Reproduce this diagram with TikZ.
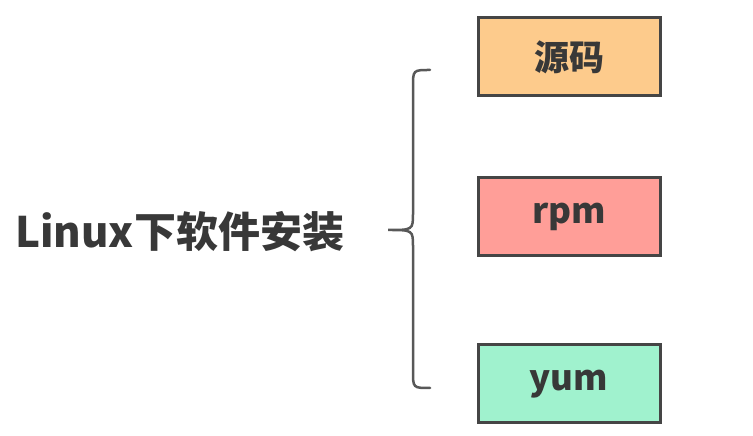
\documentclass[tikz,border=0pt]{standalone}
\usepackage{fontspec}
\setmainfont{Noto Sans CJK SC}
\usetikzlibrary{positioning}
\definecolor{srcfill}{HTML}{FDCB8C}
\definecolor{rpmfill}{HTML}{FF9E98}
\definecolor{yumfill}{HTML}{A0F2CE}
\definecolor{edge}{HTML}{454545}
\definecolor{ink}{HTML}{383838}

\begin{document}
\begin{tikzpicture}[x=1pt, y=1pt,
  box/.style = {draw=edge, line width=3pt, minimum width=182pt, minimum height=78pt,
                text=ink, font=\fontsize{35}{38}\bfseries},
  bracket/.style = {draw=edge!90, line width=2.5pt, line cap=round}]

\useasboundingbox (0,0) rectangle (753,436);

\node[anchor=west, text=ink, font=\fontsize{42}{45}\bfseries, inner sep=0pt] (title) at (15,204) {Linux下软件安装};

\node[box, fill=rpmfill] (rpm) at (569,219) {rpm};
\node[box, fill=srcfill, above=79pt of rpm] (src) {源码};
\node[box, fill=yumfill, below=86pt of rpm] (yum) {yum};

\coordinate (top) at (430,366);
\coordinate (tip) at (388,206);
\coordinate (bot) at (430,48);

\draw[bracket] (top) .. controls (413,366) .. (413,349) -- (413,223)
  .. controls (413,206) .. (tip) .. controls (413,206) .. (413,189)
  -- (413,65) .. controls (413,48) .. (bot);

\end{tikzpicture}
\end{document}
